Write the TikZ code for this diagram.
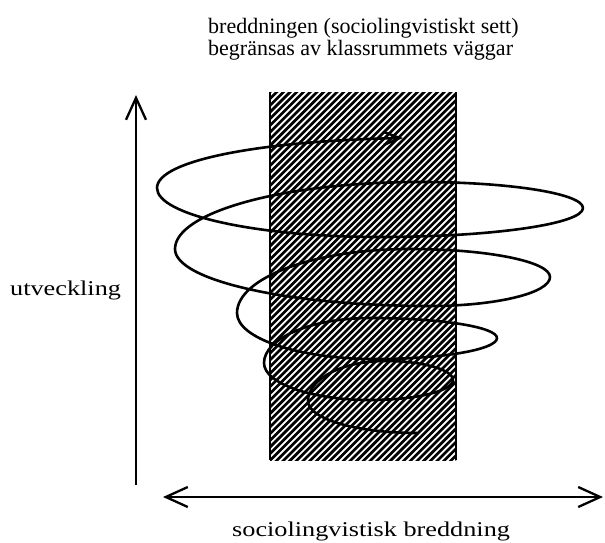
\documentclass[tikz,border=0pt]{standalone}
\usepackage{fontspec}
\setmainfont{Liberation Serif}
\usetikzlibrary{arrows.meta}
\begin{document}
\begin{tikzpicture}[x=1pt,y=-1pt,
  axis/.style={line width=2.3pt},
  barbtip/.style={-{Straight Barb[length=22pt,width=20pt,line width=2.3pt]}},
  spiral/.style={line width=2.6pt, line join=round, line cap=round},
  hatchline/.style={line width=2.7pt},
  edgeline/.style={line width=1.2pt},
  toplbl/.style={inner sep=0pt, anchor=base west, font=\fontsize{22}{26}\selectfont},
  widelbl/.style={inner sep=0pt, anchor=base west, font=\fontsize{21}{25}\selectfont}
]
\useasboundingbox[fill=white] (0,0) rectangle (605,542);

% hatched column (classroom walls)
\begin{scope}
  \clip (270,92) rectangle (456,460);
  \foreach \c in {362,368.7,...,925}
    \draw[hatchline] (\c-480,480) -- (\c-70,70);
\end{scope}
\draw[edgeline] (270,92) -- (270,460);
\draw[edgeline] (456,92) -- (456,460);

% axes
\coordinate (vbot) at (136,485);
\coordinate (vtop) at (136,95);
\coordinate (hleft) at (163,497);
\coordinate (hright) at (603,497);
\draw[axis, barbtip] (vbot) -- (vtop);
\draw[axis, {Straight Barb[length=22pt,width=20pt,line width=2.3pt]}-{Straight Barb[length=22pt,width=20pt,line width=2.3pt]}] (hleft) -- (hright);

% spiral: tips and middles of the loops
\coordinate (s0) at (417,433);
\coordinate (t1) at (308,401);
\coordinate (m1) at (385,361);
\coordinate (t2) at (453,380);
\coordinate (m2) at (370,400);
\coordinate (t3) at (264,363);
\coordinate (m3) at (370,318);
\coordinate (t4) at (497,338);
\coordinate (m4) at (375,359);
\coordinate (t5) at (237,313);
\coordinate (m5) at (410,249);
\coordinate (t6) at (550,277);
\coordinate (m6) at (430,306);
\coordinate (t7) at (175,249);
\coordinate (m7) at (420,182);
\coordinate (t8) at (583,208);
\coordinate (m8) at (380,237);
\coordinate (t9) at (157,188);
\coordinate (s1) at (403,138);
\draw[spiral, -{Straight Barb[length=16pt,width=13pt,line width=2.4pt]}]
  (s0) .. controls (357,433) and (308,419) .. (t1)
       .. controls (308,378.9) and (342.5,361) .. (m1)
       .. controls (422.5,361) and (453,369.5) .. (t2)
       .. controls (453,391) and (415.8,400) .. (m2)
       .. controls (311.5,400) and (264,383.4) .. (t3)
       .. controls (264,338.2) and (311.5,318) .. (m3)
       .. controls (440.1,318) and (497,327) .. (t4)
       .. controls (497,349.6) and (442.3,359) .. (m4)
       .. controls (298.8,359) and (237,338.4) .. (t5)
       .. controls (237,277.7) and (314.5,249) .. (m5)
       .. controls (487.3,249) and (550,261.5) .. (t6)
       .. controls (550,293) and (496.2,306) .. (m6)
       .. controls (289.2,306) and (175,280.5) .. (t7)
       .. controls (175,212) and (284.8,182) .. (m7)
       .. controls (510,182) and (583,193.6) .. (t8)
       .. controls (583,224) and (492,237) .. (m8)
       .. controls (256.9,237) and (157,215) .. (t9)
       .. controls (157,160.4) and (260,141) .. (s1);

% labels
\node[toplbl] (l1) at (208,33) {breddningen (sociolingvistiskt sett)};
\node[toplbl] (l2) at (208,55) {begränsas av klassrummets väggar};
\node[widelbl] (ylab) at (10,295) {\scalebox{1.25}[1]{utveckling}};
\node[widelbl] (xlab) at (232,536) {\scalebox{1.25}[1]{sociolingvistisk breddning}};
\end{tikzpicture}
\end{document}
